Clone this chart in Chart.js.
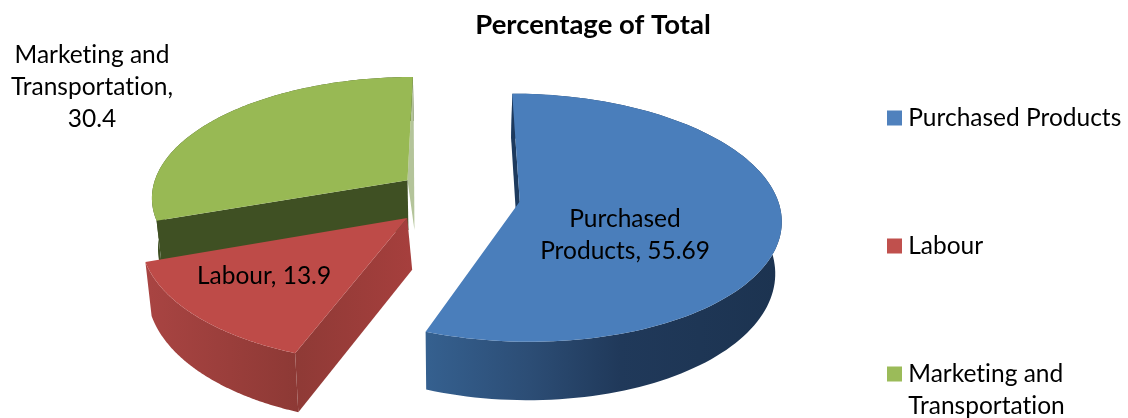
<!DOCTYPE html>
<html>
<head>
<meta charset="utf-8">
<style>
  html, body { margin: 0; padding: 0; background: #fff; }
  #wrap { width: 1128px; height: 418px; }
</style>
<script src="https://cdn.jsdelivr.net/npm/chart.js@4"></script>
</head>
<body>
<div id="wrap"><canvas id="chart"></canvas></div>
<script>
const categories = ["Purchased Products", "Labour", "Marketing and Transportation"];
const percentOfTotal = [55.69, 13.9, 30.4];
const chartTitle = "Percentage of Total";
const legendLines = ["Purchased Products", "Labour", ["Marketing and", "Transportation"]];
const labelLines = [
  ["Purchased", "Products, 55.69"],
  ["Labour, 13.9"],
  ["Marketing and", "Transportation,", "30.4"],
];

const faceColors = ["#4a7ebb", "#be4b48", "#98b954"];
const legendColors = ["#4f81bd", "#c0504d", "#9bbb59"];
const sliceOffsets = [42, 42, 38];
const labelCenters = [[625, 235], [264, 276], [92, 87]];

const FONT = "Lato, Carlito, Calibri, sans-serif";
const LABEL_SIZE = 24.5;

// camera for the tilted pie: world units are pie radii, y grows toward the viewer
const CAM = { x: 455, y: 196, a: 257, b: 120.5, p: 0.13, depth: 50.5, shrink: 0.02 };

function project(u, v, z) {
  const w = 1 - CAM.p * v;
  const s = 1 - CAM.shrink * z;
  return [CAM.x + (CAM.a * u * s) / w, CAM.y + (CAM.b * v + CAM.depth * z) / w];
}

function hGrad(ctx, stops) {
  const x0 = stops[0][0];
  const span = stops[stops.length - 1][0] - x0;
  const g = ctx.createLinearGradient(x0, 0, x0 + span, 0);
  stops.forEach((s) => g.addColorStop((s[0] - x0) / span, s[1]));
  return g;
}

function tracePath(ctx, pts) {
  ctx.beginPath();
  pts.forEach((p, i) => (i ? ctx.lineTo(p[0], p[1]) : ctx.moveTo(p[0], p[1])));
  ctx.closePath();
}

// Outer rim, cut walls and top face of one slice, from the arc element's own geometry
function drawSlice(ctx, arc, idx) {
  const { startAngle, endAngle, outerRadius } = arc.getProps(["startAngle", "endAngle", "outerRadius"], true);
  const mid = (startAngle + endAngle) / 2;
  const d = arc.options.offset / outerRadius;
  const ox = Math.cos(mid) * d;
  const oy = Math.sin(mid) * d;

  const rim = (z) => {
    const out = [];
    for (let i = 0; i <= 120; i++) {
      const t = startAngle + ((endAngle - startAngle) * i) / 120;
      out.push(project(ox + Math.cos(t), oy + Math.sin(t), z));
    }
    return out;
  };
  const apex = project(ox, oy, 0);
  const apexLow = project(ox, oy, 1);
  const top = rim(0);
  const bottom = rim(1);

  // lean = how far the wall's lower inner corner sits to the right
  const quad = (i, fill, lean) => {
    tracePath(ctx, [apex, top[i], bottom[i], [apexLow[0] + lean, apexLow[1]]]);
    ctx.fillStyle = fill;
    ctx.fill();
  };

  const outerFill = [
    hGrad(ctx, [[427, "#35608f"], [530, "#2c4d75"], [620, "#20395a"], [780, "#1c3350"]]),
    hGrad(ctx, [[150, "#a84442"], [230, "#9a3e3b"], [298, "#8d3935"], [412, "#a33e3c"]]),
    "#3f5023",
  ][idx];

  tracePath(ctx, top.concat(bottom.slice().reverse()));
  ctx.fillStyle = outerFill;
  ctx.fill();

  // only the cut walls that face the viewer
  if (idx === 0) {
    quad(0, "#1d3a5e", 0);
  } else if (idx === 1) {
    quad(0, hGrad(ctx, [[298, "#8f3a36"], [412, "#a63f3d"]]), 4);
  } else {
    quad(120, "#b4c49a", 6);
    quad(0, "#3f5023", 0);
  }

  tracePath(ctx, [apex].concat(top));
  ctx.fillStyle = faceColors[idx];
  ctx.fill();
}

const tiltedPie = {
  id: "tiltedPie",
  afterLayout(chart) {
    // spread the legend down the right edge and move the title off centre
    const lg = chart.legend;
    lg.left = 789.5;
    lg.top = 2.25;
    lg.bottom = 2000;
    const tb = chart.titleBlock;
    tb.left = 29;
    tb.right = 1157;
  },
  beforeDraw(chart) {
    chart.ctx.textRendering = "optimizeSpeed";
  },
  beforeDatasetsDraw(chart) {
    const ctx = chart.ctx;
    const arcs = chart.getDatasetMeta(0).data;
    ctx.save();
    [2, 1, 0].forEach((i) => drawSlice(ctx, arcs[i], i));
    ctx.fillStyle = "#000";
    ctx.font = LABEL_SIZE + "px " + FONT;
    ctx.textAlign = "center";
    ctx.textBaseline = "middle";
    labelLines.forEach((lines, i) => {
      const [x, y] = labelCenters[i];
      lines.forEach((line, k) => {
        ctx.fillText(line, x, y + (k - (lines.length - 1) / 2) * 32);
      });
    });
    ctx.restore();
    return false;
  },
};

new Chart(document.getElementById("chart"), {
  type: "pie",
  data: {
    labels: categories,
    datasets: [
      {
        data: percentOfTotal,
        backgroundColor: legendColors,
        borderWidth: 0,
        offset: sliceOffsets,
      },
    ],
  },
  options: {
    responsive: true,
    maintainAspectRatio: false,
    animation: false,
    layout: { padding: 0 },
    plugins: {
      tooltip: { enabled: false },
      title: {
        display: true,
        text: chartTitle,
        color: "#000",
        font: { family: FONT, size: 27.5, weight: "bold" },
        padding: { top: 9, bottom: 4 },
      },
      legend: {
        position: "right",
        align: "start",
        labels: {
          color: "#000",
          font: { family: FONT, size: LABEL_SIZE, lineHeight: 1.3 },
          padding: 103.5,
          usePointStyle: true,
          pointStyle: "rect",
          boxWidth: 3,
          boxHeight: 15,
          generateLabels() {
            return categories.map((c, i) => ({
              text: legendLines[i],
              fillStyle: legendColors[i],
              strokeStyle: legendColors[i],
              lineWidth: 0,
              pointStyle: "rect",
              hidden: false,
              index: i,
            }));
          },
        },
      },
    },
  },
  plugins: [tiltedPie],
});
</script>
</body>
</html>
